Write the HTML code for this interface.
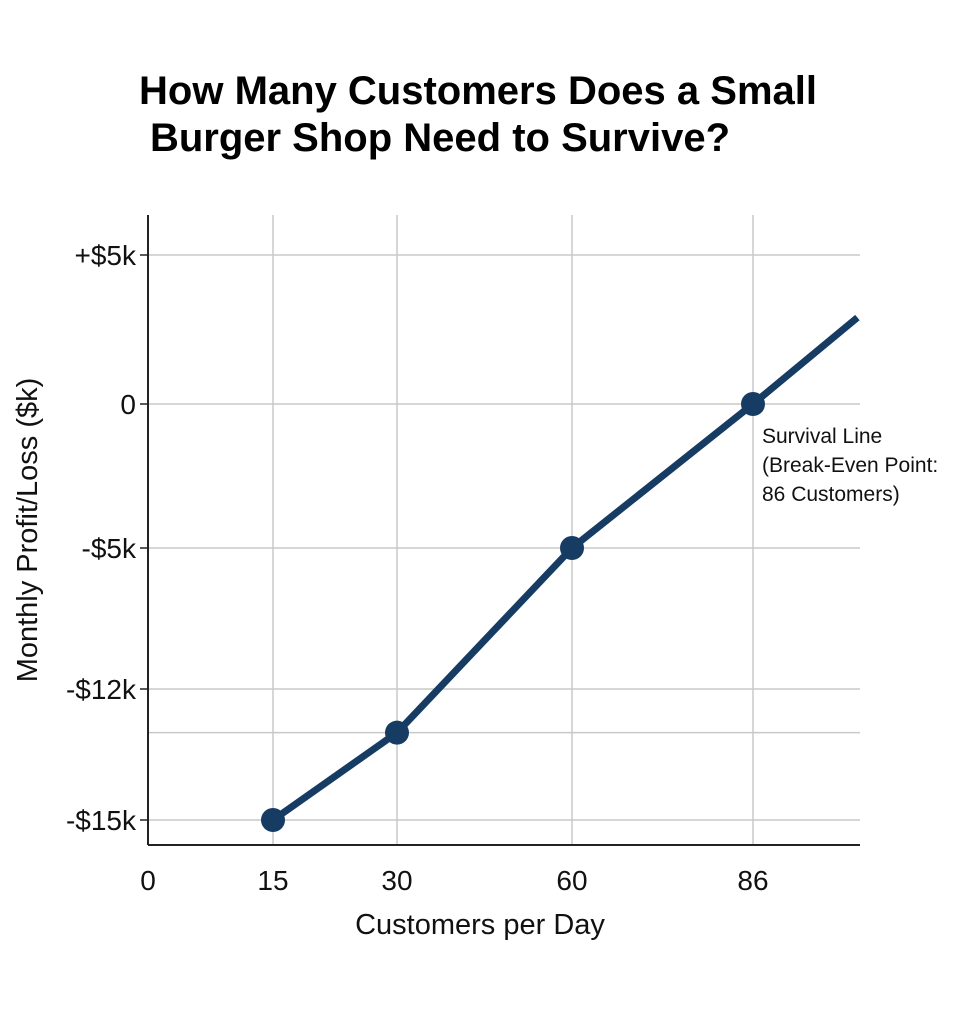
<!DOCTYPE html>
<html><head><meta charset="utf-8"><style>
body{margin:0;background:#fff;width:960px;height:1024px;overflow:hidden;font-family:"Liberation Sans",sans-serif}
</style></head><body>
<svg width="960" height="1024" xmlns="http://www.w3.org/2000/svg">
<g id="title" font-family="Liberation Sans, sans-serif" font-weight="bold" font-size="40" fill="#000">
<text x="478" y="104" text-anchor="middle">How Many Customers Does a Small</text>
<text x="440" y="151" text-anchor="middle">Burger Shop Need to Survive?</text>
</g>
<g id="grid"></g><g id="axes"></g><g id="series"></g><g id="labels"></g>
</svg>
<script>
const xTicks=[0,15,30,60,86];
const xTickLabels=["0","15","30","60","86"];
const yTicks=[5,0,-5,-12,-15];
const yTickLabels=["+$5k","0","-$5k","-$12k","-$15k"];
const customers=[15,30,60,86];
const profit=[-15,-13,-5,0];
const lineEnd=[101,2.9];
const NS="http://www.w3.org/2000/svg";
const xPx=[148,273,397,572,753], yPx=[255,404,548,689,820];
function interp(v,dom,rng){
  let i=0; if(dom[1]<dom[0]){
    while(i<dom.length-2 && v<dom[i+1]) i++;
  } else { while(i<dom.length-2 && v>dom[i+1]) i++; }
  const t=(v-dom[i])/(dom[i+1]-dom[i]); return rng[i]+t*(rng[i+1]-rng[i]);
}
const X=v=>interp(v,xTicks,xPx), Y=v=>interp(v,yTicks,yPx);
function mk(tag,attrs,parent){const e=document.createElementNS(NS,tag);for(const k in attrs)e.setAttribute(k,attrs[k]);document.getElementById(parent).appendChild(e);return e;}
const L=148,R=860,T=215,B=845;
xTicks.forEach((v,i)=>{
  if(i>0){const g=mk('line',{x1:X(v),x2:X(v),y1:T,y2:B,stroke:'#c8c8c8','stroke-width':1.5},'grid');
  
  }
  const t=mk('text',{x:X(v),y:890,'text-anchor':'middle','font-size':28,fill:'#111'},'labels');
  t.textContent=xTickLabels[i];
  
  
});
yTicks.forEach((v,i)=>{
  const g=mk('line',{x1:L,x2:R,y1:Y(v),y2:Y(v),stroke:'#c8c8c8','stroke-width':1.5},'grid');
  
  
  const tk=mk('line',{x1:L-8,x2:L,y1:Y(v),y2:Y(v),stroke:'#222','stroke-width':1.5},'axes');
  
  
  const t=mk('text',{x:136,y:Y(v)+10,'text-anchor':'end','font-size':28,fill:'#111'},'labels');
  t.textContent=yTickLabels[i];
  
  
});
const eg=mk('line',{x1:L,x2:R,y1:Y(-13),y2:Y(-13),stroke:'#c8c8c8','stroke-width':1.5},'grid');


const ya=mk('line',{x1:L,x2:L,y1:T,y2:B,stroke:'#222','stroke-width':2},'axes');


const xa=mk('line',{x1:L,x2:R,y1:B,y2:B,stroke:'#222','stroke-width':2},'axes');


let pts=customers.map((c,i)=>X(c)+','+Y(profit[i]));
pts.push(X(lineEnd[0])+','+Y(lineEnd[1]));
const pl=mk('polyline',{points:pts.join(' '),fill:'none',stroke:'#173c63','stroke-width':7,'stroke-linejoin':'round'},'series');


customers.forEach((c,i)=>{
  const m=mk('circle',{cx:X(c),cy:Y(profit[i]),r:12,fill:'#173c63'},'series');
  
  
});
const xt=mk('text',{x:480,y:934,'text-anchor':'middle','font-size':29,fill:'#111'},'labels');
xt.textContent='Customers per Day';


const yt=mk('text',{x:0,y:0,'text-anchor':'middle','font-size':29,fill:'#111',transform:'translate(37,530) rotate(-90)'},'labels');
yt.textContent='Monthly Profit/Loss ($k)';


const ann=mk('text',{x:762,y:443,'font-size':21,fill:'#111'},'labels');


['Survival Line','(Break-Even Point:','86 Customers)'].forEach((s,i)=>{
  const ts=mk('tspan',{x:762,dy:i?29:0},'labels');ann.appendChild(ts);ts.textContent=s;
});
</script>
</body></html>
